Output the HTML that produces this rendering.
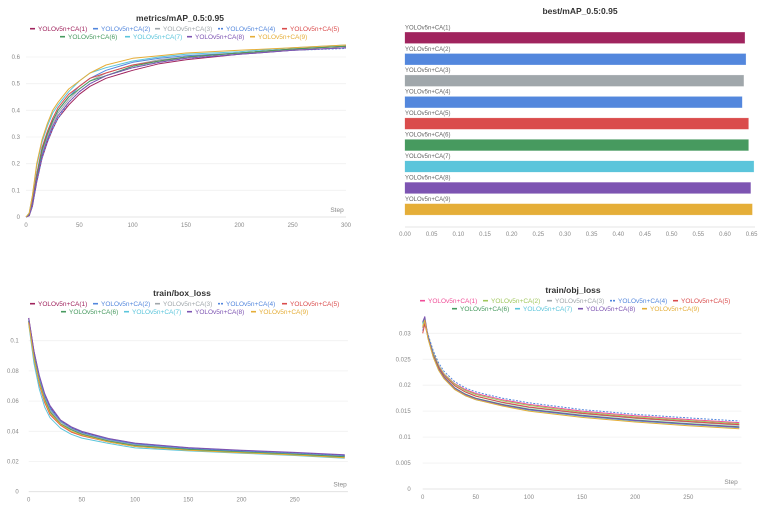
<!DOCTYPE html>
<html><head><meta charset="utf-8"><style>
html,body{margin:0;padding:0;background:#fff;}
body{width:761px;height:518px;overflow:hidden;font-family:"Liberation Sans",sans-serif;}
svg{display:block}
</style></head><body>
<svg id="c" width="761" height="518" xmlns="http://www.w3.org/2000/svg"></svg>
<script>
const names=["YOLOv5n+CA(1)","YOLOv5n+CA(2)","YOLOv5n+CA(3)","YOLOv5n+CA(4)","YOLOv5n+CA(5)","YOLOv5n+CA(6)","YOLOv5n+CA(7)","YOLOv5n+CA(8)","YOLOv5n+CA(9)"];
const colors=["#a0245e","#5387dd","#a0a7ab","#5387dd","#da4c4c","#479a5f","#5bc5db","#7d54b2","#e5ae38"];
const colorsObj=["#f04e98","#a0c75c","#a0a7ab","#5387dd","#da4c4c","#479a5f","#5bc5db","#7d54b2","#e5ae38"];

// mAP chart data
const mapSteps=[0,3,6,10,15,20,25,30,40,50,60,75,100,125,150,200,250,300];
const mapS1=[0,0.005,0.04,0.13,0.22,0.28,0.33,0.37,0.42,0.46,0.49,0.52,0.55,0.575,0.59,0.61,0.625,0.635];
const mapS2=[0,0.01,0.06,0.16,0.25,0.31,0.36,0.40,0.45,0.49,0.52,0.55,0.58,0.595,0.605,0.615,0.63,0.64];
const mapS3=[0,0.01,0.05,0.15,0.24,0.30,0.35,0.39,0.44,0.48,0.51,0.54,0.57,0.59,0.60,0.615,0.625,0.635];
const mapS4=[0,0.005,0.04,0.13,0.22,0.28,0.33,0.37,0.43,0.47,0.50,0.53,0.56,0.58,0.595,0.61,0.625,0.632];
const mapS5=[0,0.01,0.06,0.16,0.26,0.32,0.37,0.41,0.46,0.49,0.52,0.54,0.57,0.585,0.60,0.615,0.63,0.64];
const mapS6=[0,0.01,0.05,0.15,0.25,0.31,0.36,0.40,0.45,0.48,0.51,0.53,0.565,0.585,0.60,0.615,0.63,0.64];
const mapS7=[0,0.015,0.08,0.19,0.28,0.34,0.39,0.42,0.47,0.51,0.54,0.56,0.585,0.60,0.61,0.62,0.635,0.645];
const mapS8=[0,0.005,0.05,0.14,0.23,0.29,0.34,0.38,0.43,0.47,0.50,0.53,0.56,0.58,0.595,0.61,0.625,0.635];
const mapS9=[0,0.015,0.08,0.20,0.29,0.35,0.40,0.43,0.48,0.51,0.54,0.57,0.595,0.605,0.615,0.625,0.635,0.645];
const mapXTicks=[0,50,100,150,200,250,300];
const mapYTicks=[0,0.1,0.2,0.3,0.4,0.5,0.6];

// best mAP bars
const bestValues=[0.637,0.639,0.635,0.632,0.644,0.644,0.654,0.648,0.651];
const bestTicks=[0,0.05,0.1,0.15,0.2,0.25,0.3,0.35,0.4,0.45,0.5,0.55,0.6,0.65];

// box loss
const boxSteps=[0,5,10,15,20,30,40,50,75,100,150,200,250,297];
const boxS1=[0.115,0.093,0.076,0.064,0.056,0.047,0.0425,0.0395,0.035,0.032,0.029,0.0272,0.0257,0.024];
const boxS2=[0.113,0.091,0.075,0.063,0.055,0.0465,0.042,0.039,0.0345,0.0315,0.0285,0.0268,0.0253,0.0237];
const boxS3=[0.112,0.090,0.074,0.062,0.054,0.046,0.0415,0.0385,0.034,0.031,0.028,0.0263,0.025,0.0233];
const boxS4=[0.114,0.092,0.076,0.064,0.056,0.047,0.0425,0.0395,0.035,0.032,0.029,0.0272,0.0257,0.0242];
const boxS5=[0.112,0.087,0.071,0.059,0.051,0.044,0.0395,0.037,0.033,0.030,0.0275,0.026,0.0245,0.023];
const boxS6=[0.113,0.089,0.073,0.061,0.053,0.045,0.041,0.038,0.0335,0.0305,0.028,0.0263,0.0248,0.0232];
const boxS7=[0.111,0.085,0.068,0.056,0.049,0.042,0.038,0.0355,0.032,0.029,0.027,0.0255,0.024,0.0222];
const boxS8=[0.115,0.093,0.077,0.065,0.057,0.0475,0.043,0.040,0.0352,0.0322,0.0292,0.0275,0.026,0.0245];
const boxS9=[0.112,0.088,0.072,0.060,0.052,0.0445,0.040,0.0375,0.033,0.030,0.0275,0.0258,0.0243,0.0225];
const boxXTicks=[0,50,100,150,200,250];
const boxYTicks=[0,0.02,0.04,0.06,0.08,0.1];

// obj loss
const objSteps=[0,2,5,10,15,20,30,40,50,75,100,150,200,250,298];
const objS1=[0.031,0.0322,0.0295,0.0262,0.0238,0.0222,0.0203,0.0192,0.0184,0.0172,0.0163,0.0150,0.0141,0.0134,0.0128];
const objS2=[0.0315,0.0325,0.0296,0.0262,0.0238,0.0222,0.0202,0.0190,0.0182,0.0170,0.0161,0.0148,0.0139,0.0132,0.0126];
const objS3=[0.031,0.0323,0.0294,0.0260,0.0236,0.0220,0.0199,0.0187,0.0179,0.0166,0.0157,0.0145,0.0136,0.0129,0.0123];
const objS4=[0.0305,0.0320,0.0298,0.0266,0.0243,0.0227,0.0207,0.0195,0.0187,0.0175,0.0166,0.0153,0.0144,0.0137,0.0131];
const objS5=[0.030,0.0318,0.0292,0.0258,0.0235,0.0219,0.0199,0.0187,0.0179,0.0167,0.0158,0.0146,0.0137,0.0130,0.0124];
const objS6=[0.032,0.0328,0.0292,0.0257,0.0232,0.0216,0.0195,0.0183,0.0175,0.0163,0.0154,0.0142,0.0133,0.0126,0.0120];
const objS7=[0.0318,0.0326,0.0290,0.0254,0.0229,0.0213,0.0192,0.0180,0.0172,0.0161,0.0152,0.0140,0.0131,0.0124,0.0118];
const objS8=[0.0322,0.0332,0.0293,0.0256,0.0231,0.0215,0.0194,0.0182,0.0174,0.0162,0.0153,0.0141,0.0132,0.0125,0.0119];
const objS9=[0.0312,0.0325,0.0290,0.0254,0.0229,0.0213,0.0192,0.0180,0.0172,0.0160,0.0150,0.0138,0.0129,0.0122,0.0116];
const objXTicks=[0,50,100,150,200,250];
const objYTicks=[0,0.005,0.01,0.015,0.02,0.025,0.03];

const svg=document.getElementById('c');
const NS="http://www.w3.org/2000/svg";
function mk(tag,attrs,parent){const e=document.createElementNS(NS,tag);for(const k in attrs)e.setAttribute(k,attrs[k]);(parent||svg).appendChild(e);return e;}
function txt(x,y,s,size,fill,anchor,parent,weight){const t=mk('text',{x:x,y:y,'font-size':size,fill:fill,'text-anchor':anchor||'start','font-family':'Liberation Sans, sans-serif'},parent);if(weight)t.setAttribute('font-weight',weight);t.textContent=s;return t;}

function lineChart(cfg){
  const g=mk('g',{});
  
  
  const xs=v=>cfg.x0+(v-0)*(cfg.x1-cfg.x0)/(cfg.xmax);
  const ys=v=>cfg.y0-(v)*(cfg.y0-cfg.y1)/(cfg.ymax);
  const tt=txt(cfg.tx,cfg.ty,cfg.title,8.5,'#333','middle',g,'bold');
  
  
  // legend
  for(let i=0;i<9;i++){
    const lg=mk('g',{},g);
    
    
    const lx=cfg.legX[i],ly=cfg.legY[i<5?0:1];
    const seg=mk('line',{x1:lx,y1:ly-2.3,x2:lx+5,y2:ly-2.3,stroke:cfg.colors[i],'stroke-width':1.6},lg);
    if(i===3)seg.setAttribute('stroke-dasharray','2,1');
    txt(lx+8,ly,names[i],6.5,cfg.colors[i],'start',lg);
  }
  // grid + y ticks
  cfg.yTicks.forEach(v=>{
    const y=ys(v);
    if(v>0){const gl=mk('line',{x1:cfg.x0,y1:y,x2:cfg.x1,y2:y,stroke:'#f0f0f0','stroke-width':0.8},g);
      
      }
    const t=txt(cfg.x0-cfg.yLabOff,y+2,String(v),6,'#888','end',g);
    
    
  });
  const ax=mk('line',{x1:cfg.x0,y1:cfg.y0,x2:cfg.x1,y2:cfg.y0,stroke:'#ddd','stroke-width':0.8},g);
  
  
  cfg.xTicks.forEach(v=>{
    const t=txt(xs(v),cfg.y0+10,String(v),6,'#888','middle',g);
    
    
  });
  const st=txt(cfg.stepX,cfg.y0-5,'Step',6.5,'#888','middle',g);
  
  
  cfg.series.forEach((s,i)=>{
    const pts=cfg.steps.map((st,j)=>xs(st).toFixed(1)+','+ys(s[j]).toFixed(1)).join(' ');
    const p=mk('polyline',{points:pts,fill:'none',stroke:cfg.colors[i],'stroke-width':1,'stroke-linejoin':'round'},g);
    if(i===3)p.setAttribute('stroke-dasharray','2,1.5');
    
    
  });
}

lineChart({name:'map-line-chart',title:'metrics/mAP_0.5:0.95',tx:180,ty:21,
  legX:[30,93,155,218,282,60,125,187,250],legY:[31,39],
  x0:26,x1:346,xmax:300,y0:217,y1:57,ymax:0.6,yLabOff:6,stepX:337,
  steps:mapSteps,series:[mapS1,mapS2,mapS3,mapS4,mapS5,mapS6,mapS7,mapS8,mapS9],
  xTicks:mapXTicks,yTicks:mapYTicks,colors:colors});

lineChart({name:'box-loss-chart',title:'train/box_loss',tx:182,ty:296,
  legX:[30,93,155,218,282,61,124,187,251],legY:[306,314],
  x0:28.7,x1:347.9,xmax:300,y0:491.7,y1:340.7,ymax:0.1,yLabOff:10,stepX:340,
  steps:boxSteps,series:[boxS1,boxS2,boxS3,boxS4,boxS5,boxS6,boxS7,boxS8,boxS9],
  xTicks:boxXTicks,yTicks:boxYTicks,colors:colors});

lineChart({name:'obj-loss-chart',title:'train/obj_loss',tx:573,ty:293,
  legX:[420,483,547,610,673,452,515,578,642],legY:[303,311],
  x0:422.7,x1:741.4,xmax:300,y0:489,y1:333.3,ymax:0.03,yLabOff:12,stepX:731,
  steps:objSteps,series:[objS1,objS2,objS3,objS4,objS5,objS6,objS7,objS8,objS9],
  xTicks:objXTicks,yTicks:objYTicks,colors:colorsObj});

// bar chart
(function(){
  const g=mk('g',{});
  
  
  const x0=405,pxPerUnit=533.3,axisY=227;
  const xs=v=>x0+v*pxPerUnit;
  const t=txt(580,14,'best/mAP_0.5:0.95',8.5,'#333','middle',g,'bold');
  
  
  bestValues.forEach((v,i)=>{
    const top=32.3+i*21.45;
    const lb=txt(x0,top-3,names[i],6,'#666','start',g);
    
    
    const r=mk('rect',{x:x0,y:top,width:xs(v)-x0,height:11,fill:colors[i],stroke:colors[i],'stroke-opacity':0.5,'stroke-width':0.5},g);
    
    
  });
  const ax=mk('line',{x1:x0,y1:axisY,x2:755,y2:axisY,stroke:'#ddd','stroke-width':0.8},g);
  
  
  bestTicks.forEach(v=>{
    const tk=txt(xs(v),axisY+9,v.toFixed(2),6,'#888','middle',g);
    
    
  });
})();
</script>
</body></html>
